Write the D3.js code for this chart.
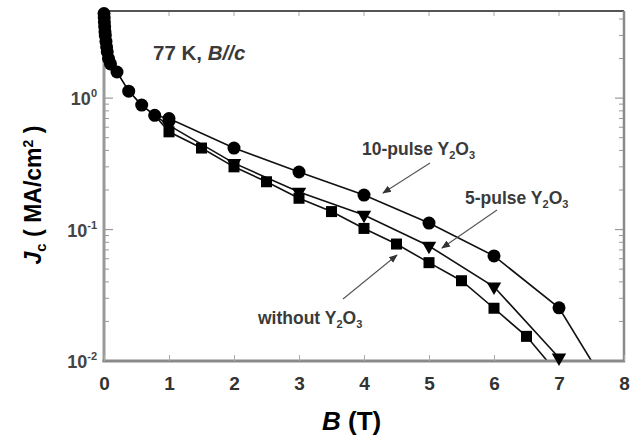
<!DOCTYPE html>
<html>
<head>
<meta charset="utf-8">
<script src="https://cdn.jsdelivr.net/npm/d3@7"></script>
<style>
  body { margin: 0; background: #fff; }
  text { font-family: "Liberation Sans", Arial, sans-serif; }
</style>
</head>
<body>
<svg id="chart" width="637" height="435"></svg>
<script>
// shared low-field points (all three samples overlap here)
const lowB  = [0, 0.003, 0.006, 0.01, 0.015, 0.02, 0.03, 0.04, 0.05, 0.07, 0.1, 0.2, 0.38, 0.58, 0.78];
const lowJc = [4.4, 4.1, 3.8, 3.5, 3.2, 3.0, 2.7, 2.45, 2.25, 2.0, 1.82, 1.58, 1.13, 0.885, 0.74];

// 10-pulse Y2O3 (circles)
const b10  = [1, 2, 3, 4, 5, 6, 7];
const jc10 = [0.70, 0.417, 0.274, 0.183, 0.112, 0.063, 0.0254];
const tail10 = [7.5, 0.01];

// 5-pulse Y2O3 (down triangles)
const b5  = [1, 2, 3, 4, 5, 6, 7];
const jc5 = [0.62, 0.32, 0.193, 0.129, 0.075, 0.0367, 0.0106];

// without Y2O3 (squares)
const b0  = [1, 1.5, 2, 2.5, 3, 3.5, 4, 4.5, 5, 5.5, 6, 6.5];
const jc0 = [0.554, 0.417, 0.30, 0.231, 0.173, 0.137, 0.102, 0.0776, 0.056, 0.0408, 0.0252, 0.0154];
const tail0 = [6.82, 0.01];

const xTicks = [0, 1, 2, 3, 4, 5, 6, 7, 8];
const yMajor = [0.01, 0.1, 1];
const yMajorLabels = ["-2", "-1", "0"];

const svg = d3.select('#chart');
const x = d3.scaleLinear().domain([0, 8]).range([104, 624]);
const y = d3.scaleLog().domain([0.01, 4.6]).range([361, 11]);

const zip = (bs, js) => bs.map((b, i) => ({b: b, j: js[i]}));
const low = zip(lowB, lowJc);
const s10 = zip(b10, jc10);
const s5 = zip(b5, jc5);
const s0 = zip(b0, jc0);

const plot = svg.append('g');
svg.append('clipPath').attr('id', 'clip')
  .append('rect').attr('x', 104).attr('y', 11).attr('width', 520).attr('height', 350);

// y minor ticks (inside, both sides)
const yMinor = y.ticks().filter(v => yMajor.indexOf(v) < 0);
const axisG = svg.append('g');
yMinor.forEach(v => {
  axisG.append('line').attr('x1', x(0)).attr('x2', x(0) + 5).attr('y1', y(v)).attr('y2', y(v))
    .attr('stroke', '#999').attr('stroke-width', 1);
  axisG.append('line').attr('x1', x(8)).attr('x2', x(8) - 5).attr('y1', y(v)).attr('y2', y(v))
    .attr('stroke', '#999').attr('stroke-width', 1);
});
yMajor.forEach(v => {
  axisG.append('line').attr('x1', x(0)).attr('x2', x(0) + 9).attr('y1', y(v)).attr('y2', y(v))
    .attr('stroke', '#999').attr('stroke-width', 1.2);
  axisG.append('line').attr('x1', x(8)).attr('x2', x(8) - 9).attr('y1', y(v)).attr('y2', y(v))
    .attr('stroke', '#999').attr('stroke-width', 1.2);
});

// x axis
const xAxis = svg.append('g')
  .attr('transform', `translate(0, ${y(0.01)})`)
  .call(d3.axisBottom(x).tickValues(xTicks).tickSizeInner(-6).tickSizeOuter(0).tickPadding(16));
xAxis.select('.domain').remove();
xAxis.selectAll('line').attr('stroke', '#aaa');
xAxis.selectAll('text').attr('font-size', 19).attr('font-weight', 'bold').attr('fill', '#333')
  .attr('font-family', '"Liberation Sans", Arial, sans-serif');

// top ticks
xTicks.forEach(v => {
  axisG.append('line').attr('x1', x(v)).attr('x2', x(v)).attr('y1', y(4.6)).attr('y2', y(4.6) + 5)
    .attr('stroke', '#aaa');
});

// frame
axisG.append('line').attr('x1', x(0)).attr('x2', x(8)).attr('y1', 11).attr('y2', 11)
  .attr('stroke', '#555').attr('stroke-width', 2);
axisG.append('line').attr('x1', x(0)).attr('x2', x(0)).attr('y1', 11).attr('y2', 362)
  .attr('stroke', '#9a9a9a').attr('stroke-width', 3);
axisG.append('line').attr('x1', x(8)).attr('x2', x(8)).attr('y1', 11).attr('y2', 362)
  .attr('stroke', '#8a8a8a').attr('stroke-width', 2.5);
axisG.append('line').attr('x1', x(0) - 1.5).attr('x2', x(8) + 1).attr('y1', y(0.01)).attr('y2', y(0.01))
  .attr('stroke', '#8a8a8a').attr('stroke-width', 3);

// y labels
yMajor.forEach((v, i) => {
  const t = svg.append('text').attr('x', 97).attr('y', y(v) + 7).attr('text-anchor', 'end')
    .attr('font-size', 18).attr('font-weight', 'bold').attr('fill', '#444');
  t.append('tspan').text('10');
  t.append('tspan').attr('dy', -8).attr('font-size', 11).text(yMajorLabels[i]);
});

// lines
const line = d3.line().x(d => x(d.b)).y(d => y(d.j));
const lowEnd = low[low.length - 1];
const curves = [
  [lowEnd].concat(s10, [{b: tail10[0], j: tail10[1]}]),
  [lowEnd].concat(s5),
  [lowEnd].concat(s0, [{b: tail0[0], j: tail0[1]}])
];
plot.attr('clip-path', 'url(#clip)');
plot.append('path').attr('d', line(low)).attr('fill', 'none').attr('stroke', '#000').attr('stroke-width', 1.6);
curves.forEach(c => {
  plot.append('path').attr('d', line(c)).attr('fill', 'none').attr('stroke', '#111').attr('stroke-width', 1.6);
});

// markers
const marks = svg.append('g');
marks.selectAll('.low').data(low).enter().append('circle')
  .attr('cx', d => x(d.b)).attr('cy', d => y(d.j)).attr('r', 6.5).attr('fill', '#000');
marks.selectAll('.sq').data(s0).enter().append('rect')
  .attr('x', d => x(d.b) - 5.5).attr('y', d => y(d.j) - 5.5).attr('width', 11).attr('height', 11).attr('fill', '#000');
marks.selectAll('.tri').data(s5).enter().append('path')
  .attr('transform', d => `translate(${x(d.b)}, ${y(d.j)}) rotate(180)`)
  .attr('d', d3.symbol(d3.symbolTriangle, 90)).attr('fill', '#000');
marks.selectAll('.ci').data(s10).enter().append('circle')
  .attr('cx', d => x(d.b)).attr('cy', d => y(d.j)).attr('r', 6.5).attr('fill', '#000');

// annotations
const note = svg.append('g').attr('font-weight', 'bold').attr('fill', '#3a3a3a');
const t77 = note.append('text').attr('x', 153).attr('y', 60).attr('font-size', 20.5);
t77.append('tspan').text('77 K, ');
t77.append('tspan').attr('font-style', 'italic').text('B//c');

function yo(tx, px, py) {
  const t = note.append('text').attr('x', px).attr('y', py).attr('font-size', 17.5);
  t.append('tspan').text(tx + ' Y');
  t.append('tspan').attr('dy', 4).attr('font-size', 11).text('2');
  t.append('tspan').attr('dy', -4).text('O');
  t.append('tspan').attr('dy', 4).attr('font-size', 11).text('3');
}
yo('10-pulse', 362, 155);
yo('5-pulse', 465, 204);
yo('without', 258, 324);

const arrows = [[430, 163, 383, 193], [497, 210, 442, 248], [343, 299, 397, 255]];
svg.append('defs').append('marker').attr('id', 'ah').attr('viewBox', '0 0 10 10')
  .attr('refX', 9).attr('refY', 5).attr('markerWidth', 8).attr('markerHeight', 8).attr('orient', 'auto')
  .append('path').attr('d', 'M0,1 L10,5 L0,9 z').attr('fill', '#333');
arrows.forEach(a => {
  svg.append('line').attr('x1', a[0]).attr('y1', a[1]).attr('x2', a[2]).attr('y2', a[3])
    .attr('stroke', '#555').attr('stroke-width', 1.1).attr('marker-end', 'url(#ah)');
});

// axis titles
const yt = svg.append('text').attr('transform', 'translate(41, 195) rotate(-90)')
  .attr('text-anchor', 'middle').attr('font-size', 23).attr('font-weight', 'bold').attr('fill', '#000');
yt.append('tspan').attr('font-style', 'italic').text('J');
yt.append('tspan').attr('dy', 5).attr('font-size', 15).text('c');
yt.append('tspan').attr('dy', -5).text(' ( MA/cm');
yt.append('tspan').attr('dy', -8).attr('font-size', 14).text('2');
yt.append('tspan').attr('dy', 8).text(' )');

const xt = svg.append('text').attr('x', 322).attr('y', 430).attr('font-size', 26)
  .attr('font-weight', 'bold').attr('fill', '#000');
xt.append('tspan').attr('font-style', 'italic').text('B');
xt.append('tspan').text(' (T)');
</script>
</body>
</html>
